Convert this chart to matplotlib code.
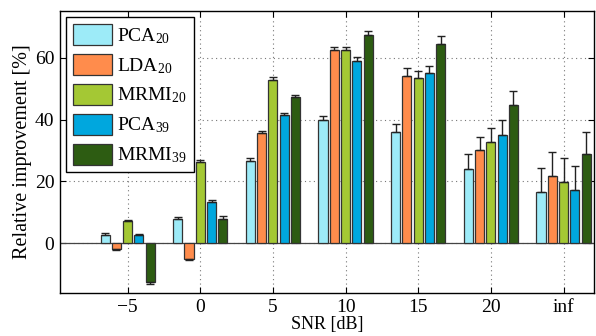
import matplotlib
matplotlib.use("Agg")
import matplotlib.pyplot as plt
import numpy as np

plt.rcParams['font.family'] = ['Liberation Serif', 'DejaVu Serif']
plt.rcParams['mathtext.fontset'] = 'custom'
plt.rcParams['mathtext.rm'] = 'Liberation Serif'
plt.rcParams['mathtext.it'] = 'Liberation Serif'

categories = ['\u22125', '0', '5', '10', '15', '20', 'inf']
series_names = ['PCA$_{20}$', 'LDA$_{20}$', 'MRMI$_{20}$', 'PCA$_{39}$', 'MRMI$_{39}$']
colors = ['#9DEBF8', '#FF8C4C', '#A4C834', '#00A7DE', '#2D5C12']

pca20 = [2.8, 8.0, 26.7, 39.7, 35.9, 23.9, 16.5]
lda20 = [-1.7, -5.0, 35.6, 62.5, 54.1, 30.0, 21.7]
mrmi20 = [7.2, 26.3, 52.8, 62.5, 53.3, 32.6, 19.7]
pca39 = [2.6, 13.5, 41.3, 59.0, 55.1, 35.1, 17.1]
mrmi39 = [-12.5, 8.0, 47.2, 67.4, 64.5, 44.7, 28.9]

err_pca20 = [0.5, 0.5, 0.8, 1.4, 2.8, 5.0, 7.8]
err_lda20 = [0.4, 0.5, 0.8, 1.0, 2.4, 4.5, 7.8]
err_mrmi20 = [0.5, 0.7, 0.8, 1.0, 2.3, 4.5, 7.9]
err_pca39 = [0.5, 0.6, 0.8, 1.2, 2.2, 4.6, 8.0]
err_mrmi39 = [0.5, 0.8, 0.8, 1.1, 2.3, 4.6, 7.2]

values = [pca20, lda20, mrmi20, pca39, mrmi39]
errors = [err_pca20, err_lda20, err_mrmi20, err_pca39, err_mrmi39]

fig = plt.figure(figsize=(5.96, 3.36), dpi=100)
ax = fig.add_axes([0.1007, 0.128, 0.896, 0.839])

x = np.arange(1, len(categories) + 1)
step = 0.155
width = 0.125
handles = []
for i, (vals, errs, col, name) in enumerate(zip(values, errors, colors, series_names)):
    pos = x + (i - 2) * step
    vals = np.array(vals)
    errs = np.array(errs)
    lower = np.where(vals < 0, errs, 0)
    upper = np.where(vals >= 0, errs, 0)
    b = ax.bar(pos, vals, width, color=col, edgecolor='#333333', linewidth=0.9,
               label=name, zorder=3)
    ax.errorbar(pos, vals, yerr=[lower, upper], fmt='none', ecolor='#222222',
                elinewidth=1.0, capsize=3, capthick=1.0, zorder=4)
    handles.append(b)

ax.axhline(0, color='#444444', linewidth=0.9, zorder=2)
ax.set_xlim(0.07, 7.42)
ax.set_ylim(-16, 75)
ax.set_xticks(x)
ax.set_xticklabels(categories)
ax.set_yticks([0, 20, 40, 60])
ax.grid(True, linestyle=(0, (1, 3)), color='#777777', linewidth=0.8, zorder=0)
ax.tick_params(direction='in', top=True, right=True, labelsize=14, length=4, pad=4)
for s in ax.spines.values():
    s.set_linewidth(1.0)
ax.set_xlabel('SNR [dB]', fontsize=13, labelpad=0)
ax.set_ylabel('Relative improvement [%]', fontsize=14.5, labelpad=2)

leg = ax.legend(handles=handles, loc='upper left', fontsize=14, frameon=True,
                fancybox=False, edgecolor='black', framealpha=1,
                handlelength=2.0, handleheight=1.3, labelspacing=0.42,
                borderpad=0.35, handletextpad=0.3, borderaxespad=0.3)
leg.get_frame().set_linewidth(1.0)

fig.savefig('out.png', dpi=100)
